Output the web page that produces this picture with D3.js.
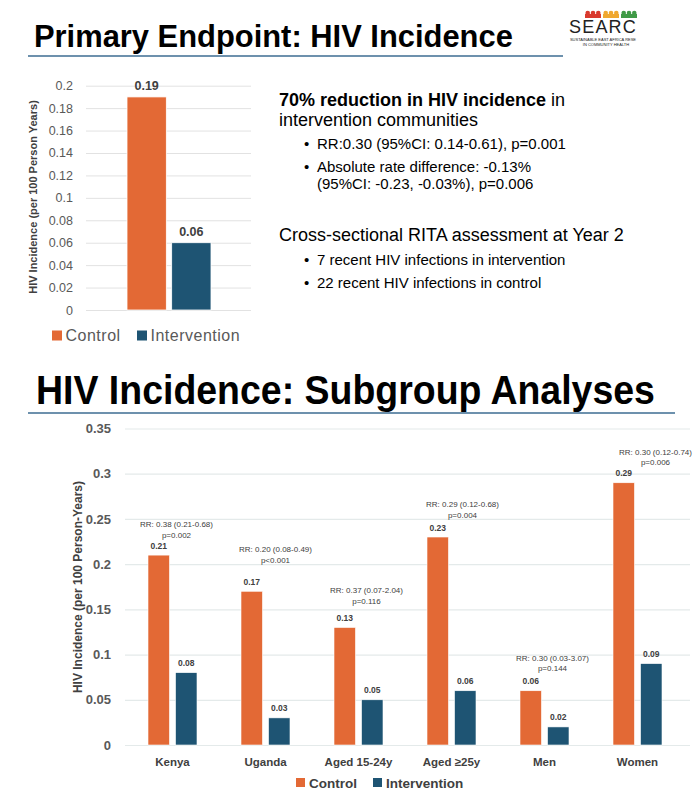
<!DOCTYPE html>
<html>
<head>
<meta charset="utf-8">
<title>HIV incidence</title>
<style>
  body { margin: 0; background: #fff; }
  svg { display: block; font-family: "Liberation Sans", Arial, sans-serif; }
</style>
</head>
<body>
<svg id="slide" width="695" height="798"></svg>
<script src="https://cdn.jsdelivr.net/npm/d3@7"></script>
<script>
// ---- data ----
var topSeries = ["Control", "Intervention"];
var topValues = [0.19, 0.06];
var topTicks = [0, 0.02, 0.04, 0.06, 0.08, 0.1, 0.12, 0.14, 0.16, 0.18, 0.2];

var subCategories = ["Kenya", "Uganda", "Aged 15-24y", "Aged \u226525y", "Men", "Women"];
var subControl = [0.21, 0.17, 0.13, 0.23, 0.06, 0.29];
var subIntervention = [0.08, 0.03, 0.05, 0.06, 0.02, 0.09];
var subRR = ["RR: 0.38 (0.21-0.68)", "RR: 0.20 (0.08-0.49)", "RR: 0.37 (0.07-2.04)",
             "RR: 0.29 (0.12-0.68)", "RR: 0.30 (0.03-3.07)", "RR: 0.30 (0.12-0.74)"];
var subP = ["p=0.002", "p<0.001", "p=0.116", "p=0.004", "p=0.144", "p=0.006"];
var subTicks = [0, 0.05, 0.1, 0.15, 0.2, 0.25, 0.3, 0.35];

var orange = "#e36935", navy = "#1e5473", grey = "#595959", dark = "#404040";
var fmt = function(d){ return String(+d.toFixed(2)) };

var svg = d3.select("#slide")
svg.append("rect").attr("width", 695).attr("height", 798).attr("fill", "#fff")

// slide titles: the slide uses a narrow bold face, so squeeze the text horizontally
function title(txt, x, y, size, w, lineY, lineEnd) {
    var t = svg.append("text").attr("x", 0).attr("y", 0)
        .attr("font-family", "'Liberation Sans Narrow', 'Arial Narrow', Arial, sans-serif")
        .attr("font-weight", "bold").attr("font-size", size)
        .attr("fill", "#000").text(txt)
    var w0 = t.node().getComputedTextLength()
    t.attr("transform", "translate(" + x + "," + y + ") scale(" + (w / w0) + ",1)")
    svg.append("line").attr("x1", 28).attr("x2", lineEnd)
        .attr("y1", lineY).attr("y2", lineY)
        .attr("stroke", "#3d6d92").attr("stroke-width", 1.6)
}
title("Primary Endpoint: HIV Incidence", 34, 47, 31.5, 479, 56, 563)
title("HIV Incidence: Subgroup Analyses", 36, 403.5, 40, 619, 413, 675)

// logo
var logo = svg.append("g")
var hutCols = ["#d93a2e", "#f0a830", "#3f9a47"]
hutCols.forEach(function(c, i){
    var xs = 585 + i * 18
    logo.append("rect").attr("x", xs).attr("y", 14).attr("width", 16).attr("height", 4).attr("fill", c)
    for (var k = 0; k < 3; k++) {
        logo.append("circle").attr("cx", xs + 2.7 + k * 5.3).attr("cy", 13).attr("r", 2.3).attr("fill", c)
    }
})
logo.append("text").attr("x", 603).attr("y", 32.5).attr("text-anchor", "middle")
    .attr("font-size", 18).attr("letter-spacing", 1.2).attr("fill", "#222").text("SEARC")
logo.append("text").attr("x", 603).attr("y", 40.5).attr("text-anchor", "middle")
    .attr("font-size", 4).attr("fill", "#222").text("SUSTAINABLE EAST AFRICA RESE")
logo.append("text").attr("x", 606).attr("y", 45.5).attr("text-anchor", "middle")
    .attr("font-size", 4).attr("fill", "#222").text("IN COMMUNITY HEALTH")

// ---- top chart ----
var tx1 = d3.scaleBand().domain(topSeries).range([127, 211]).paddingInner(0.12)
var ty = d3.scaleLinear().domain([0, 0.2]).range([310, 85.7])

var tGrid = svg.append("g").attr("transform", "translate(86,0)")
    .call(d3.axisLeft(ty).tickValues(topTicks).tickSize(-165).tickFormat(""))
tGrid.select(".domain").remove()
tGrid.selectAll("line").attr("stroke", "#e2e2e2")

var tAxis = svg.append("g").attr("transform", "translate(76,0)")
    .call(d3.axisLeft(ty).tickValues(topTicks).tickSize(0).tickFormat(fmt))
tAxis.select(".domain").remove()
tAxis.selectAll("text").attr("font-size", 12.5).attr("fill", grey)
    .attr("font-family", "'Liberation Sans', Arial, sans-serif")

svg.selectAll(".tbar").data(topValues).enter().append("rect").attr("class", "tbar")
    .attr("x", function(d, i){ return tx1(topSeries[i]) })
    .attr("width", tx1.bandwidth())
    .attr("y", function(d){ return ty(d) })
    .attr("height", function(d){ return ty(0) - ty(d) })
    .attr("fill", function(d, i){ return i ? navy : orange })
    .attr("stroke", "#fff").attr("stroke-width", 0.8)

svg.selectAll(".tlab").data(topValues).enter().append("text").attr("class", "tlab")
    .attr("x", function(d, i){ return tx1(topSeries[i]) + tx1.bandwidth() / 2 })
    .attr("y", function(d){ return ty(d) - 7 })
    .attr("text-anchor", "middle").attr("font-size", 12.5).attr("font-weight", "bold")
    .attr("fill", dark).text(fmt)

svg.append("text").attr("transform", "translate(37,197) rotate(-90)")
    .attr("text-anchor", "middle").attr("font-size", 11).attr("font-weight", "bold")
    .attr("fill", dark).text("HIV Incidence (per 100 Person Years)")

var tLegX = [52, 137]
topSeries.forEach(function(s, i){
    svg.append("rect").attr("x", tLegX[i]).attr("y", 330.5).attr("width", 10).attr("height", 10)
        .attr("fill", i ? navy : orange)
    svg.append("text").attr("x", tLegX[i] + 13.5).attr("y", 341).attr("font-size", 16)
        .attr("letter-spacing", 0.5).attr("fill", grey).text(s)
})

// ---- right text block ----
var tb = svg.append("g").attr("fill", "#000")
var l1 = tb.append("text").attr("x", 279).attr("y", 105.5).attr("font-size", 18)
l1.append("tspan").attr("font-weight", "bold").text("70% reduction in HIV incidence")
l1.append("tspan").text(" in")
tb.append("text").attr("x", 279).attr("y", 125.5).attr("font-size", 18).text("intervention communities")
tb.append("text").attr("x", 279).attr("y", 241).attr("font-size", 18).text("Cross-sectional RITA assessment at Year 2")

var bullets = [
    { y: 148.5, t: "RR:0.30 (95%CI: 0.14-0.61), p=0.001", dot: true },
    { y: 172, t: "Absolute rate difference: -0.13%", dot: true },
    { y: 188.5, t: "(95%CI: -0.23, -0.03%), p=0.006", dot: false },
    { y: 265, t: "7 recent HIV infections in intervention", dot: true },
    { y: 287.5, t: "22 recent HIV infections in control", dot: true }
]
bullets.forEach(function(b){
    if (b.dot) tb.append("text").attr("x", 304).attr("y", b.y).attr("font-size", 15).text("\u2022")
    tb.append("text").attr("x", 317).attr("y", b.y).attr("font-size", 15).text(b.t)
})

// ---- subgroup chart ----
var x0 = d3.scaleBand().domain(subCategories).range([126, 684])
var x1 = d3.scaleBand().domain(topSeries).range([0, 49]).paddingInner(0.22)
var y = d3.scaleLinear().domain([0, 0.35]).range([745, 428.5])
var groupOff = (x0.bandwidth() - 49) / 2

var sGrid = svg.append("g").attr("transform", "translate(125,0)")
    .call(d3.axisLeft(y).tickValues(subTicks).tickSize(-565).tickFormat(""))
sGrid.select(".domain").remove()
sGrid.selectAll("line").attr("stroke", "#e4eaea").attr("stroke-width", 1.2)

var sAxis = svg.append("g").attr("transform", "translate(114,0)")
    .call(d3.axisLeft(y).tickValues(subTicks).tickSize(0).tickFormat(fmt))
sAxis.select(".domain").remove()
sAxis.selectAll("text").attr("font-size", 13).attr("font-weight", "bold").attr("fill", grey)
    .attr("font-family", "'Liberation Sans', Arial, sans-serif")

var rows = subCategories.map(function(c, i){
    return { cat: c, vals: [subControl[i], subIntervention[i]], rr: subRR[i], p: subP[i] }
})
var grp = svg.selectAll(".grp").data(rows).enter().append("g").attr("class", "grp")
    .attr("transform", function(d){ return "translate(" + (x0(d.cat) + groupOff) + ",0)" })

grp.selectAll("rect").data(function(d){ return d.vals }).enter().append("rect")
    .attr("x", function(d, i){ return x1(topSeries[i]) })
    .attr("width", x1.bandwidth())
    .attr("y", function(d){ return y(d) })
    .attr("height", function(d){ return y(0) - y(d) })
    .attr("fill", function(d, i){ return i ? navy : orange })
    .attr("stroke", "#fff").attr("stroke-width", 0.6)

grp.selectAll(".vl").data(function(d){ return d.vals }).enter().append("text").attr("class", "vl")
    .attr("x", function(d, i){ return x1(topSeries[i]) + x1.bandwidth() / 2 })
    .attr("y", function(d){ return y(d) - 6.5 })
    .attr("text-anchor", "middle").attr("font-size", 8.5).attr("font-weight", "bold")
    .attr("fill", dark).text(fmt)

// RR boxes sit above the control bar; in the slide they were nudged by hand
var liftY = [0, 11, 6, 2, 2, 0]
var nudgeX = [0, 6, 4, 7, 4, 14]
function rrLine(key, dy) {
    grp.append("text").attr("text-anchor", "middle")
        .attr("x", function(d, i){ return 28.5 + nudgeX[i] })
        .attr("y", function(d, i){ return y(d.vals[0]) - dy - liftY[i] })
        .attr("font-size", 8).attr("fill", dark)
        .text(function(d){ return d[key] })
}
rrLine("rr", 28)
rrLine("p", 17.5)

svg.selectAll(".cat").data(subCategories).enter().append("text").attr("class", "cat")
    .attr("x", function(d){ return x0(d) + x0.bandwidth() / 2 })
    .attr("y", 766).attr("text-anchor", "middle")
    .attr("font-size", 11.5).attr("font-weight", "bold").attr("fill", dark).text(function(d){ return d })

svg.append("text").attr("transform", "translate(82,587) rotate(-90)")
    .attr("text-anchor", "middle").attr("font-size", 12).attr("font-weight", "bold")
    .attr("fill", dark).text("HIV Incidence (per 100 Person-Years)")

var sLegX = [296, 373]
topSeries.forEach(function(s, i){
    svg.append("rect").attr("x", sLegX[i]).attr("y", 778).attr("width", 9).attr("height", 9)
        .attr("fill", i ? navy : orange)
    svg.append("text").attr("x", sLegX[i] + 13).attr("y", 787.5).attr("font-size", 13.5)
        .attr("font-weight", "bold").attr("fill", dark).text(s)
})
</script>
</body>
</html>
